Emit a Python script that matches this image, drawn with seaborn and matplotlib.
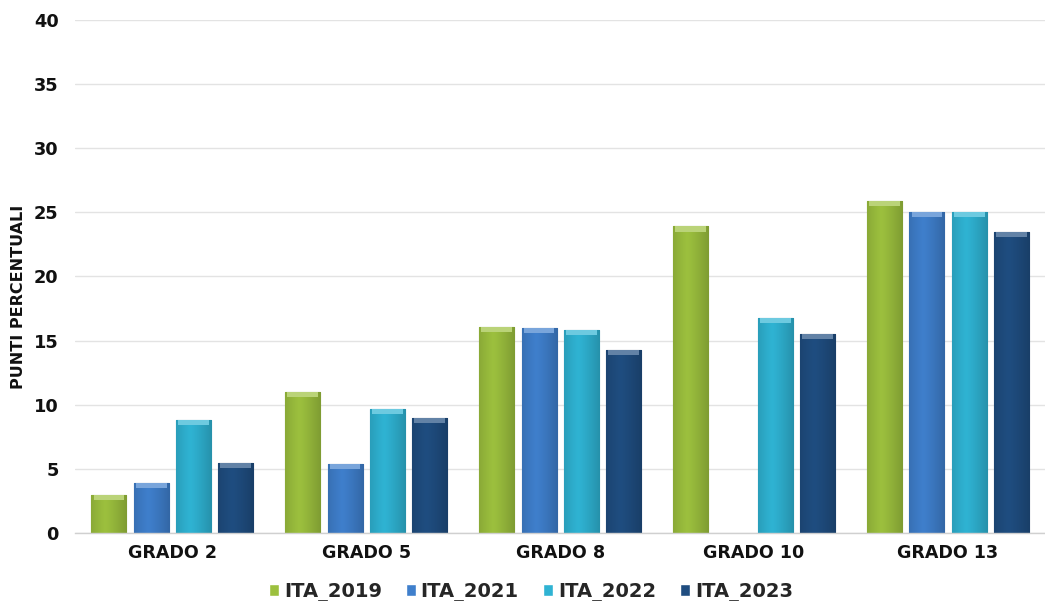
import numpy as np
import pandas as pd
import matplotlib
matplotlib.use("Agg")
import matplotlib.pyplot as plt
import matplotlib.colors as mcolors
import seaborn as sns

categories = ["GRADO 2", "GRADO 5", "GRADO 8", "GRADO 10", "GRADO 13"]
series = ["ITA_2019", "ITA_2021", "ITA_2022", "ITA_2023"]
ita_2019 = [3.0, 11.0, 16.1, 23.9, 25.9]
ita_2021 = [3.9, 5.4, 16.0, np.nan, 25.0]
ita_2022 = [8.8, 9.7, 15.8, 16.8, 25.0]
ita_2023 = [5.5, 9.0, 14.3, 15.5, 23.5]
y_ticks = [0, 5, 10, 15, 20, 25, 30, 35, 40]

colors = ["#9cc03e", "#3f7fcc", "#2fb3d3", "#1f4d80"]

rows = []
for name, vals in zip(series, [ita_2019, ita_2021, ita_2022, ita_2023]):
    for cat, v in zip(categories, vals):
        rows.append({"grado": cat, "serie": name, "valore": v})
df = pd.DataFrame(rows)

sns.set_theme(style="white")
plt.rcParams["font.family"] = ["DejaVu Sans"]

fig = plt.figure(figsize=(10.45, 6.01), dpi=100)
ax = fig.add_axes([0.072, 0.113, 0.928, 0.854])

sns.barplot(data=df, x="grado", y="valore", hue="serie", order=categories,
            hue_order=series, palette=colors, width=0.87, gap=0.17,
            saturation=1, ax=ax, legend=True, errorbar=None)

# bevelled look: horizontal shading inside each bar plus a light top cap
grad = np.linspace(0, 1, 64)
shade = 1 - 0.35 * np.abs(grad - 0.4) ** 1.2
for container, col in zip(ax.containers, colors):
    base = np.array(mcolors.to_rgb(col))
    for p in container:
        h = p.get_height()
        if not np.isfinite(h) or h <= 0:
            continue
        x0, w = p.get_x(), p.get_width()
        img = np.clip(base[None, None, :] * shade[None, :, None], 0, 1)
        im = ax.imshow(img, extent=(x0, x0 + w, 0, h), aspect="auto",
                       zorder=p.get_zorder() + 0.1, interpolation="bicubic")
        im.set_clip_path(p)
        p.set_edgecolor(tuple(base * 0.7))
        p.set_linewidth(0.8)
        cap = min(0.4, h * 0.15)
        light = tuple(np.clip(base + (1 - base) * 0.3, 0, 1))
        ax.fill_between([x0 + w * 0.06, x0 + w * 0.94], h - cap, h,
                        color=light, zorder=p.get_zorder() + 0.2, lw=0)

ax.set_xlim(-0.5, 4.5)
ax.set_ylim(0, 40)
ax.set_yticks(y_ticks)
ax.set_yticklabels([str(t) for t in y_ticks])
ax.yaxis.grid(True, color="#e3e3e3", linewidth=1.0)
ax.set_axisbelow(True)
for s in ["top", "right", "left"]:
    ax.spines[s].set_visible(False)
ax.spines["bottom"].set_color("#d0d0d0")
ax.spines["bottom"].set_linewidth(1.0)
ax.tick_params(axis="x", length=0, labelsize=12.6, colors="#111111", pad=8)
ax.tick_params(axis="y", length=0, labelsize=12.8, colors="#111111", pad=12)
for lab in ax.get_xticklabels() + ax.get_yticklabels():
    lab.set_fontweight("bold")
ax.set_xlabel("")
ax.set_ylabel("PUNTI PERCENTUALI", fontsize=11.5, fontweight="bold", color="#111111")
ax.yaxis.set_label_coords(-0.051, 0.46)

handles, labels = ax.get_legend_handles_labels()
ax.legend(handles, labels, loc="lower center", bbox_to_anchor=(0.470, -0.168),
          ncol=4, frameon=False, handlelength=0.5, handleheight=0.55,
          handletextpad=0.25, columnspacing=1.25,
          prop={"weight": "bold", "size": 14})

fig.savefig("out.png", dpi=100, facecolor="white")
